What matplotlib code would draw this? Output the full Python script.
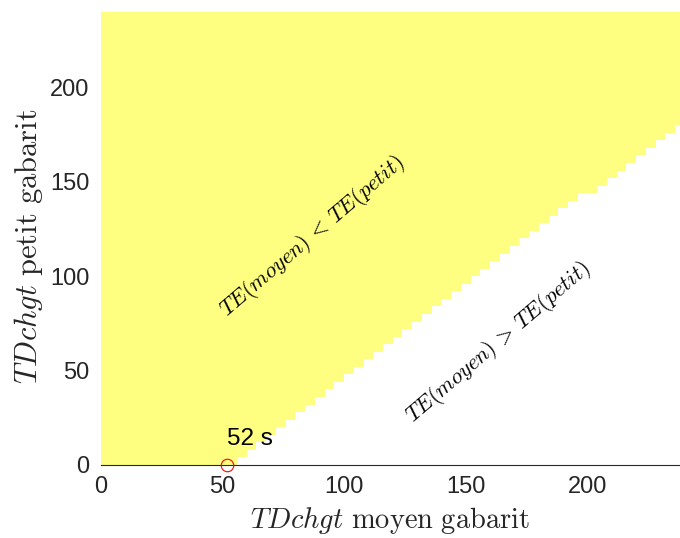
import numpy as np
import matplotlib
matplotlib.use("Agg")
import matplotlib.pyplot as plt
from matplotlib.colors import ListedColormap

# seuil et pente de la frontiere TE(moyen) = TE(petit)
seuil = 52          # s, TDchgt moyen pour TDchgt petit = 0
pente = 0.973
pas = 4             # resolution de la grille
x_max = 240
y_max = 240

xticks = [0, 50, 100, 150, 200]
yticks = [0, 50, 100, 150, 200]

plt.rcParams['mathtext.fontset'] = 'cm'
plt.rcParams['font.family'] = ['Liberation Sans', 'DejaVu Sans']

# grille des cellules
xe = np.arange(0, x_max + pas, pas)
ye = np.arange(0, y_max + pas, pas)
xc = (xe[:-1] + xe[1:]) / 2
yc = (ye[:-1] + ye[1:]) / 2
X, Y = np.meshgrid(xc, yc)
zone = (Y >= pente * (X - seuil)).astype(float)

fig = plt.figure(figsize=(6.8, 5.38), dpi=100)
ax = fig.add_axes([0.148, 0.1357, 0.852, 0.842])

cmap = ListedColormap(['white', '#fefe80'])
ax.pcolormesh(xe, ye, zone, cmap=cmap, vmin=0, vmax=1, shading='flat')

ax.plot([seuil], [0], 'o', mfc='none', mec='red', ms=9, mew=0.8, zorder=5, clip_on=False)
ax.text(seuil, 14, '52 s', fontsize=17.5, ha='left', va='center', color='black')

ax.text(87, 121, r'$TE(moyen)\,<\,TE(petit)$', fontsize=16, rotation=40.5,
        ha='center', va='center')
ax.text(163.5, 65, r'$TE(moyen)\,>\,TE(petit)$', fontsize=16, rotation=40.5,
        ha='center', va='center')

ax.set_xlim(0, 238)
ax.set_ylim(0, 240)
ax.set_xticks(xticks)
ax.set_yticks(yticks)
ax.tick_params(length=0, labelsize=17, labelcolor='#262626', pad=8)
for s in ['top', 'right', 'left']:
    ax.spines[s].set_visible(False)
ax.spines['bottom'].set_color('#262626')
ax.spines['bottom'].set_linewidth(0.8)

ax.set_xlabel(r'$TDchgt\ \mathrm{moyen\ gabarit}$', fontsize=20.5, color='#262626', labelpad=5)
ax.set_ylabel(r'$TDchgt\ \mathrm{petit\ gabarit}$', fontsize=22, color='#262626', labelpad=4)
ax.yaxis.label.set_y(0.483)

fig.savefig('out.png', dpi=100)
